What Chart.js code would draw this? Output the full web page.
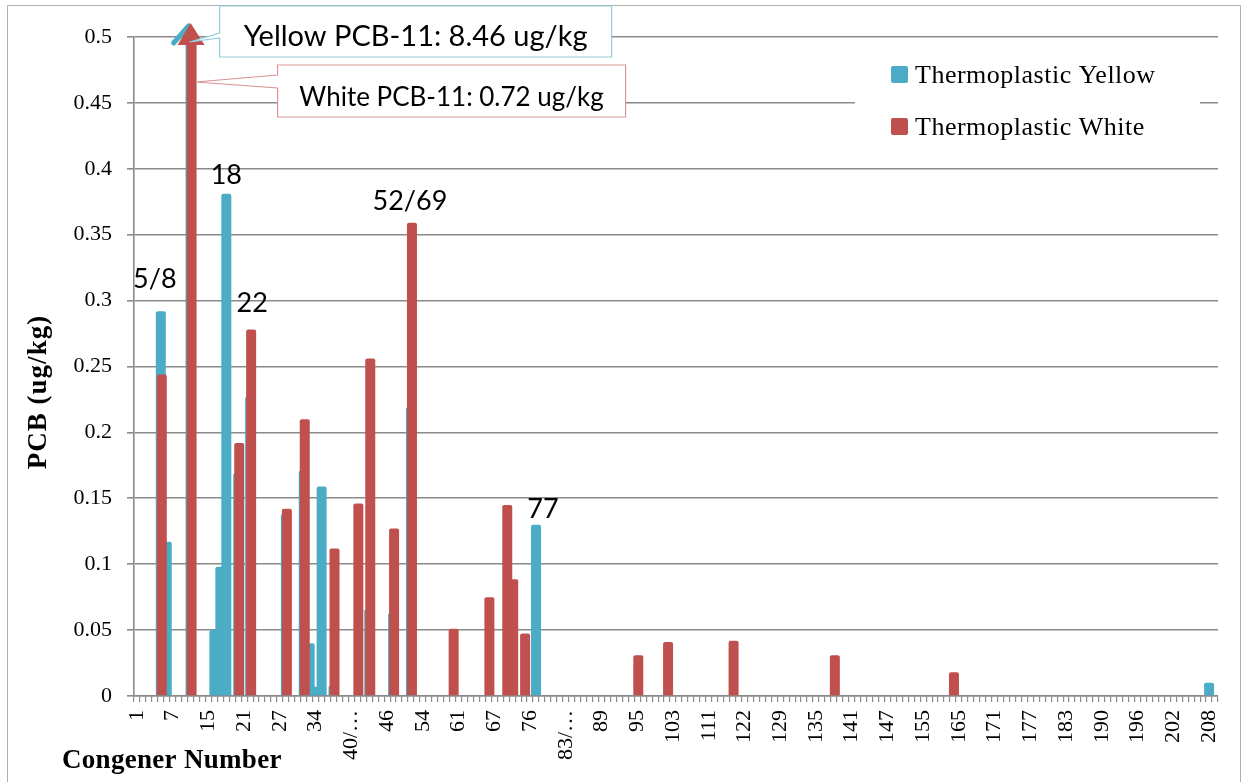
<!DOCTYPE html>
<html>
<head>
<meta charset="utf-8">
<script src="https://cdn.jsdelivr.net/npm/chart.js@4.4.0/dist/chart.umd.min.js"></script>
<style>
  html, body { margin: 0; padding: 0; background: #fff; }
  #wrap { position: relative; width: 1255px; height: 782px; }
</style>
</head>
<body>
<div id="wrap"><canvas id="chart"></canvas></div>
<script>
// congener categories along the x axis
const categories = [
  '1', '2', '3', '4', '5/8', '6', '7', '9', '10', '11', '12/13', '14',
  '15', '16', '17', '18/30', '19', '20', '21', '22', '23', '24', '25', '26',
  '27', '28', '29', '31', '32', '33', '34', '35', '36', '37', '38', '39',
  '40/71', '41', '42', '43', '44', '45', '46', '47', '48/49', '50/51', '52/69', '53',
  '54', '55', '56/60', '57', '58', '59', '61', '62', '63', '64', '65', '66',
  '67', '68', '70/74', '71', '72', '73/75', '76', '77', '78', '79', '80', '81/82',
  '83/99', '84', '85', '86', '87', '88', '89', '90', '91', '92', '93', '94',
  '95', '96', '97', '98/102', '100', '101', '103', '104', '105', '106/107', '108', '109/110',
  '111', '112', '113/115', '114', '118', '119/120', '122', '123', '124', '125', '126/127', '128',
  '129', '130', '131', '132', '133', '134', '135', '136', '137', '138', '139', '140',
  '141', '142', '143', '144', '145', '146', '147', '148', '149', '150/151', '152', '153/154',
  '155', '156/157', '158', '159/160', '161/162', '163/164', '165', '166', '167', '168', '169', '170',
  '171', '172', '173', '174', '175', '176', '177', '178', '179', '180', '181', '182',
  '183', '184', '185', '186', '187', '188/189', '190', '191', '192', '193', '194', '195',
  '196', '197', '198', '199', '200', '201', '202', '203', '204', '205', '206', '207',
  '208', '209'
];

// every sixth category carries a label, as in the original
const tickLabels = ['1', '7', '15', '21', '27', '34', '40/\u2026', '46', '54', '61', '67', '76',
  '83/\u2026', '89', '95', '103', '111', '122', '129', '135', '141', '147', '155', '165',
  '171', '177', '183', '190', '196', '202', '208'];

const yTicks = [0, 0.05, 0.1, 0.15, 0.2, 0.25, 0.3, 0.35, 0.4, 0.45, 0.5];

// Thermoplastic Yellow (ug/kg)
const yellowCongeners = ['5/8', '6', '11', '16', '17', '18/30', '20', '22', '28', '32', '33', '34',
  '35', '37', '43', '47', '52/69', '77', '208'];
const yellowValues = [0.292, 0.117, 8.46, 0.050, 0.098, 0.381, 0.169, 0.227, 0.138, 0.171, 0.040, 0.007,
  0.159, 0.008, 0.066, 0.063, 0.219, 0.130, 0.010];

// Thermoplastic White (ug/kg)
const whiteCongeners = ['5/8', '11', '20', '22', '28', '32', '37', '41', '43', '47', '52/69', '59',
  '66', '70/74', '71', '73/75', '95', '101', '118', '138', '163/164'];
const whiteValues = [0.244, 0.72, 0.192, 0.278, 0.142, 0.210, 0.112, 0.146, 0.256, 0.127, 0.359, 0.051,
  0.075, 0.145, 0.0885, 0.0475, 0.031, 0.041, 0.042, 0.031, 0.018];

// bar notes written over some of the bars
const noteCongeners = ['5/8', '18/30', '22', '52/69', '77'];
const noteTexts = ['5/8', '18', '22', '52/69', '77'];

const YELLOW = '#4BACC6';
const WHITE = '#C0504D';
const GRID = '#8a8a8a';

function toSeries(cats, vals) {
  return categories.map(c => {
    const i = cats.indexOf(c);
    return i < 0 ? null : vals[i];
  });
}

// note placement: series, x shift, baseline shift above the bar top
const noteLayout = [
  { ds: 0, dx: -6, dy: -23 },
  { ds: 0, dx: 0, dy: -10 },
  { ds: 1, dx: 2, dy: -18 },
  { ds: 1, dx: -1, dy: -13 },
  { ds: 0, dx: 7, dy: -7 }
];

const overlay = {
  id: 'overlay',
  beforeDraw(chart) {
    const ctx = chart.ctx;
    ctx.save();
    ctx.strokeStyle = '#b0b0b0';
    ctx.lineWidth = 1;
    ctx.strokeRect(7.5, 5.5, 1233, 800);
    ctx.restore();
  },
  // white series sits a pixel to the right of the yellow one
  beforeDatasetDraw(chart, args) {
    if (args.index === 1) {
      chart.ctx.save();
      chart.ctx.translate(1, 0);
    }
  },
  afterDatasetDraw(chart, args) {
    if (args.index === 1) chart.ctx.restore();
  },
  afterDatasetsDraw(chart) {
    const ctx = chart.ctx;
    const top = chart.chartArea.top;
    const cx = chart.scales.x.getPixelForValue(categories.indexOf('11'));

    ctx.save();

    // off-scale markers on PCB-11
    ctx.strokeStyle = YELLOW;
    ctx.lineWidth = 5;
    ctx.lineCap = 'round';
    ctx.beginPath();
    ctx.moveTo(cx - 17, top + 6);
    ctx.lineTo(cx - 2, top - 11);
    ctx.stroke();
    ctx.fillStyle = WHITE;
    ctx.beginPath();
    ctx.moveTo(cx, top - 14);
    ctx.lineTo(cx + 14, top + 8);
    ctx.lineTo(cx - 13, top + 8);
    ctx.closePath();
    ctx.fill();

    // callouts
    const callout = (bx, by, bw, bh, tip, b1, b2, color, text, size) => {
      ctx.beginPath();
      ctx.moveTo(bx, by);
      ctx.lineTo(bx + bw, by);
      ctx.lineTo(bx + bw, by + bh);
      ctx.lineTo(bx, by + bh);
      ctx.lineTo(bx, b2);
      ctx.lineTo(tip[0], tip[1]);
      ctx.lineTo(bx, b1);
      ctx.closePath();
      ctx.fillStyle = '#fff';
      ctx.fill();
      ctx.strokeStyle = color;
      ctx.lineWidth = 1.2;
      ctx.lineCap = 'butt';
      ctx.stroke();
      ctx.fillStyle = '#000';
      ctx.font = size + 'px Lato';
      ctx.textAlign = 'center';
      ctx.textBaseline = 'alphabetic';
      ctx.fillText(text, bx + bw / 2, by + bh - 11);
    };
    const yv = yellowValues[yellowCongeners.indexOf('11')];
    const wv = whiteValues[whiteCongeners.indexOf('11')];
    callout(cx + 29, top - 31, 392, 51, [cx - 1, top + 5], top - 4, top + 1, '#93CDDD',
      'Yellow PCB-11: ' + yv.toFixed(2) + ' ug/kg', 29);
    callout(cx + 87, top + 28, 348, 52, [cx + 5, top + 45], top + 38, top + 51, '#D99694',
      'White PCB-11: ' + wv.toFixed(2) + ' ug/kg', 26);

    // notes over bars
    ctx.font = '27px Lato';
    ctx.fillStyle = '#000';
    ctx.textAlign = 'center';
    ctx.textBaseline = 'alphabetic';
    noteCongeners.forEach((c, k) => {
      const lay = noteLayout[k];
      const el = chart.getDatasetMeta(lay.ds).data[categories.indexOf(c)];
      ctx.fillText(noteTexts[k], el.x + lay.dx, el.y + lay.dy);
    });

    // legend
    ctx.fillStyle = '#fff';
    ctx.fillRect(855, 46, 345, 110);
    ctx.font = '26px "Liberation Serif"';
    ctx.letterSpacing = '0.5px';
    ctx.textAlign = 'left';
    chart.data.datasets.forEach((ds, k) => {
      const y = 66 + k * 52;
      ctx.fillStyle = ds.backgroundColor;
      ctx.beginPath();
      ctx.roundRect(891, y, 17, 17, 2);
      ctx.fill();
      ctx.fillStyle = '#000';
      ctx.fillText(ds.label, 915, y + 17);
    });

    // axis titles
    ctx.font = 'bold 27px "Liberation Serif"';
    ctx.letterSpacing = '0.3px';
    ctx.fillText('Congener Number', 62, 768);
    ctx.letterSpacing = '1px';
    ctx.translate(46, 392);
    ctx.rotate(-Math.PI / 2);
    ctx.textAlign = 'center';
    ctx.fillText('PCB (ug/kg)', 0, 0);

    ctx.restore();
  }
};

Chart.defaults.font.family = '"Liberation Serif"';
Chart.defaults.color = '#000';

new Chart(document.getElementById('chart'), {
  type: 'bar',
  data: {
    labels: categories,
    datasets: [
      {
        label: 'Thermoplastic Yellow',
        data: toSeries(yellowCongeners, yellowValues),
        backgroundColor: YELLOW,
        order: 2
      },
      {
        label: 'Thermoplastic White',
        data: toSeries(whiteCongeners, whiteValues),
        backgroundColor: WHITE,
        order: 1
      }
    ]
  },
  options: {
    responsive: true,
    maintainAspectRatio: false,
    animation: false,
    grouped: false,
    categoryPercentage: 1,
    barPercentage: 1.68,
    borderRadius: { topLeft: 2, topRight: 2 },
    borderSkipped: 'start',
    layout: { padding: { top: 37, right: 37, left: 0, bottom: 0 } },
    plugins: {
      legend: { display: false },
      tooltip: { enabled: false }
    },
    scales: {
      x: {
        afterFit: s => { s.height = 86; },
        grid: {
          drawOnChartArea: false,
          drawTicks: true,
          tickLength: 6,
          offset: true,
          color: GRID,
          lineWidth: 1.2
        },
        border: { color: GRID, width: 1.5 },
        ticks: {
          autoSkip: false,
          minRotation: 90,
          maxRotation: 90,
          padding: 8,
          font: { size: 22 },
          callback: (v, i) => (i % 6 === 0 ? tickLabels[i / 6] : '')
        }
      },
      y: {
        min: 0,
        max: 0.5,
        afterFit: s => { s.width = 134; },
        afterBuildTicks: s => { s.ticks = yTicks.map(v => ({ value: v })); },
        grid: { color: GRID, lineWidth: 1.6, tickLength: 7 },
        border: { color: GRID, width: 1.6 },
        ticks: {
          padding: 15,
          font: { size: 22 },
          callback: v => String(+v.toFixed(2))
        }
      }
    }
  },
  plugins: [overlay]
});
</script>
</body>
</html>
